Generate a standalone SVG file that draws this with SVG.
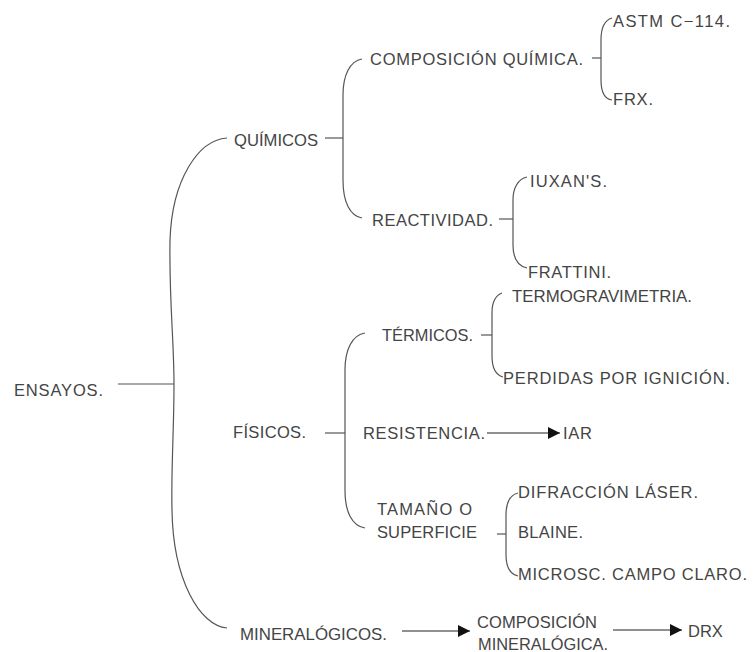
<svg xmlns="http://www.w3.org/2000/svg" width="753" height="652" viewBox="0 0 753 652">
<defs>
<marker id="ah" viewBox="0 0 10 10" refX="10" refY="5" markerWidth="15" markerHeight="12" markerUnits="userSpaceOnUse" orient="auto">
<path d="M0,0 L10,5 L0,10 Z" fill="#111"/>
</marker>
<style>
text{font-family:"Liberation Sans","DejaVu Sans",sans-serif;font-size:16.5px;fill:#444;}
.c path,.c line{fill:none;stroke:#555;stroke-width:1.2;}
.c .a{stroke:#222;}
</style>
</defs>
<rect width="753" height="652" fill="#fff"/>
<g class="c" id="connectors">
<line x1="118" y1="384" x2="174" y2="384"/>
<path d="M227,138 C198,140 172,180 170,240 C169,300 174,340 174,384 C174,430 171,470 172,510 C173,580 200,626 227,628"/>
<line x1="325" y1="138" x2="343" y2="138"/>
<path d="M362,59 C350,61 343,75 343,95 L343,180 C343,202 350,216 362,218"/>
<line x1="592" y1="58" x2="601" y2="58"/>
<path d="M612,18 C605,20 601,28 601,40 L601,80 C601,92 605,99 612,100"/>
<line x1="499" y1="219" x2="513" y2="219"/>
<path d="M527,177 C518,179 513,188 513,200 L513,245 C513,258 518,266 527,268"/>
<line x1="325" y1="433" x2="345" y2="433"/>
<path d="M365,333 C352,335 345,350 345,370 L345,490 C345,512 352,526 365,528"/>
<line x1="481" y1="335" x2="492" y2="335"/>
<path d="M502,293 C496,295 492,302 492,312 L492,356 C492,368 496,375 503,377"/>
<line class="a" x1="487" y1="433" x2="560" y2="433" marker-end="url(#ah)"/>
<line x1="497" y1="534" x2="506" y2="534"/>
<path d="M518,493 C510,495 506,503 506,515 L506,555 C506,567 510,574 518,576"/>
<line class="a" x1="402" y1="631" x2="470" y2="631" marker-end="url(#ah)"/>
<line class="a" x1="613" y1="630" x2="682" y2="630" marker-end="url(#ah)"/>
</g>
<g id="ensayos"><text x="14" y="396" textLength="89" lengthAdjust="spacing">ENSAYOS.</text></g>
<g id="quimicos"><text x="234" y="146" textLength="84" lengthAdjust="spacingAndGlyphs">QUÍMICOS</text></g>
<g id="composicion-quimica"><text x="370" y="65" textLength="213" lengthAdjust="spacing">COMPOSICIÓN QUÍMICA.</text></g>
<g id="astm"><text x="613" y="27" textLength="117" lengthAdjust="spacing">ASTM C−114.</text></g>
<g id="frx"><text x="613" y="105" textLength="40" lengthAdjust="spacing">FRX.</text></g>
<g id="reactividad"><text x="372" y="226" textLength="121" lengthAdjust="spacing">REACTIVIDAD.</text></g>
<g id="iuxans"><text x="530" y="187" textLength="77" lengthAdjust="spacing">IUXAN'S.</text></g>
<g id="frattini"><text x="528" y="278" textLength="83" lengthAdjust="spacing">FRATTINI.</text></g>
<g id="fisicos"><text x="233" y="438" textLength="73" lengthAdjust="spacing">FÍSICOS.</text></g>
<g id="termicos"><text x="382" y="341" textLength="91" lengthAdjust="spacingAndGlyphs">TÉRMICOS.</text></g>
<g id="termogravimetria"><text x="512" y="302" textLength="180" lengthAdjust="spacingAndGlyphs">TERMOGRAVIMETRIA.</text></g>
<g id="perdidas"><text x="503" y="384" textLength="227" lengthAdjust="spacing">PERDIDAS POR IGNICIÓN.</text></g>
<g id="resistencia"><text x="363" y="439" textLength="122" lengthAdjust="spacing">RESISTENCIA.</text></g>
<g id="iar"><text x="563" y="439" textLength="29" lengthAdjust="spacing">IAR</text></g>
<g id="tamano"><text x="377" y="515" textLength="95" lengthAdjust="spacing">TAMAÑO O</text><text x="377" y="538" textLength="100" lengthAdjust="spacing">SUPERFICIE</text></g>
<g id="difraccion"><text x="518" y="498" textLength="180" lengthAdjust="spacing">DIFRACCIÓN LÁSER.</text></g>
<g id="blaine"><text x="518" y="538" textLength="65" lengthAdjust="spacing">BLAINE.</text></g>
<g id="microsc"><text x="518" y="580" textLength="229" lengthAdjust="spacing">MICROSC. CAMPO CLARO.</text></g>
<g id="mineralogicos"><text x="240" y="640" textLength="147" lengthAdjust="spacingAndGlyphs">MINERALÓGICOS.</text></g>
<g id="composicion-mineralogica"><text x="477" y="628" textLength="120" lengthAdjust="spacing">COMPOSICIÓN</text><text x="478" y="650" textLength="130" lengthAdjust="spacingAndGlyphs">MINERALÓGICA.</text></g>
<g id="drx"><text x="688" y="637">DRX</text></g>
</svg>
